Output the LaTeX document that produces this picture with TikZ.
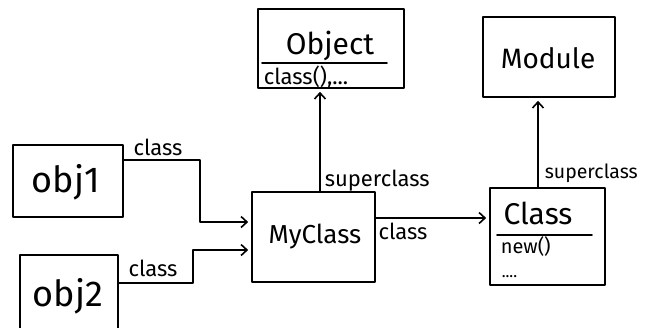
\documentclass[tikz,border=0pt]{standalone}
\usepackage{fontspec}
\setmainfont{Fira Sans}
\usetikzlibrary{arrows.meta,calc}
\begin{document}
\begin{tikzpicture}[x=1pt,y=-1pt,line width=1.6pt,line cap=round,line join=round,
  box/.style={draw,inner sep=0pt},
  title/.style={font=\fontsize{#1}{#1}\selectfont,inner sep=0pt},
  title/.default=26,
  lbl/.style={font=\fontsize{22}{24}\selectfont,inner sep=0pt},
  conn/.style={-{Straight Barb[length=6pt,width=11pt,line width=1.6pt]},shorten >=3pt}]
\clip (0,0) rectangle (645,327);
\fill[white] (0,0) rectangle (645,327);

% class boxes
\node[box,minimum width=146pt,minimum height=79pt] (object) at (331,48.5) {};
\node[box,minimum width=132pt,minimum height=80pt] (module) at (549,57) {};
\node[box,minimum width=123pt,minimum height=90pt] (myclass) at (313.5,237) {};
\node[box,minimum width=115pt,minimum height=97pt] (class) at (547.5,236.5) {};
\node[box,minimum width=110pt,minimum height=72pt] (obj1) at (68,181) {};
\node[box,minimum width=98pt,minimum height=85pt] (obj2) at (69,297.5) {};

% box contents
\node[title=30] (tobject) at (330,46) {Object};
\draw (262,63) -- (387,63);
\node[lbl,anchor=west] (mobject) at (263,77) {class(),...};
\node[title=28] (tmodule) at (548,58) {Module};
\node[title=26] (tmyclass) at (315,237) {MyClass};
\node[title=30] (tclass) at (538,213) {Class};
\draw (497,235) -- (592,235);
\node[lbl,anchor=west,font=\fontsize{20}{22}\selectfont] (mclass) at (500,246) {new()};
\node[lbl,anchor=base west,font=\fontsize{16}{16}\selectfont] (dclass) at (501,277) {....};
\node[title=36] (tobj1) at (66,182) {obj1};
\node[title=36] (tobj2) at (68,296) {obj2};

% instance-of links
\draw[conn] (obj1.east |- 0,160) -| (200,222) -- (myclass.west |- 0,222);
\draw[conn] (obj2.east |- 0,283) -| (193,250) -- (myclass.west |- 0,250);
\draw[conn] (myclass.east |- 0,218) -- (class.west |- 0,218);

% superclass links
\draw[conn] (myclass.north -| 320,0) -- (object.south -| 320,0);
\draw[conn] (class.north -| 538,0) -- (module.south -| 538,0);

% link labels
\node[lbl] (l1) at (158,147) {class};
\node[lbl] (l2) at (153,268) {class};
\node[lbl,anchor=west] (l3) at (324,181) {superclass};
\node[lbl] (l4) at (403,231) {class};
\node[lbl,anchor=west,font=\fontsize{19.5}{22}\selectfont] (l5) at (544,173) {superclass};
\end{tikzpicture}
\end{document}
